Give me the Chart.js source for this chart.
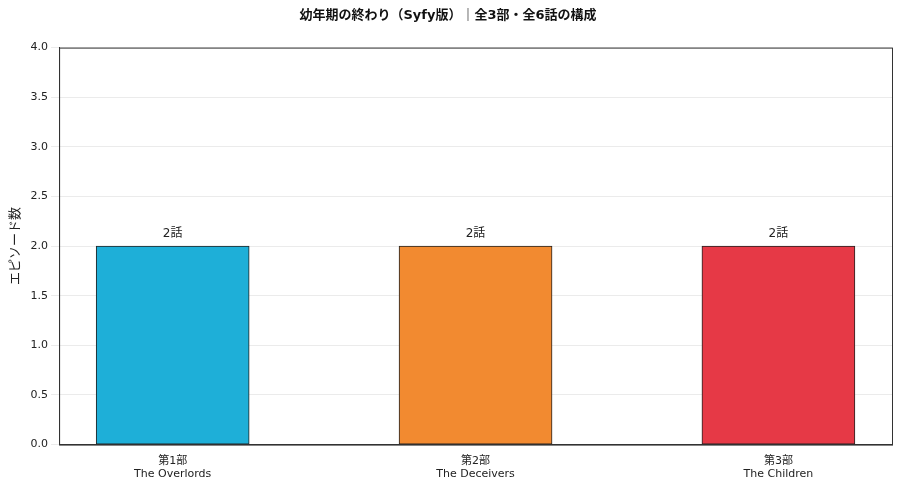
<!DOCTYPE html>
<html><head><meta charset="utf-8">
<script src="https://cdn.jsdelivr.net/npm/chart.js@4"></script>
<style>html,body{margin:0;padding:0;background:#fff}#w{width:900px;height:489px}</style>
</head><body><div id="w"><canvas id="c"></canvas></div>
<script>
const categories = [["第1部","The Overlords"],["第2部","The Deceivers"],["第3部","The Children"]];
const episodes = [2, 2, 2];
const barLabels = ["2話","2話","2話"];
const colors = ["#1eafd8","#f28a30","#e63946"];
const yTicks = [0,0.5,1,1.5,2,2.5,3,3.5,4];
const FONT = "'DejaVu Sans','Noto Sans CJK JP',sans-serif";
Chart.defaults.font.family = FONT;
const labelPlugin = {id:'lbl', afterDatasetsDraw(ch){
  const ctx=ch.ctx, meta=ch.getDatasetMeta(0);
  ctx.save(); ctx.font="12px "+FONT; ctx.fillStyle="#222"; ctx.textAlign="center"; ctx.textBaseline="bottom";
  meta.data.forEach((b,i)=>ctx.fillText(barLabels[i], b.x, b.y-6));
  ctx.restore();
}};
const frame = {id:'frame', afterDraw(ch){
  const a=ch.chartArea, ctx=ch.ctx; ctx.save(); ctx.strokeStyle="#333"; ctx.lineWidth=1;
  ctx.strokeRect(a.left+0.5,a.top+0.5,a.right-a.left,a.bottom-a.top); ctx.restore();
}};
new Chart(document.getElementById('c'),{
  type:'bar',
  data:{datasets:[{data:episodes.map((v,i)=>({x:i,y:v})),backgroundColor:colors,borderColor:"#222",borderWidth:1,barThickness:153,borderSkipped:false}]},
  options:{responsive:true,maintainAspectRatio:false,animation:false,
    layout:{padding:{left:4,right:8,top:0,bottom:6}},
    plugins:{legend:{display:false},tooltip:{enabled:false},
      title:{display:true,text:"幼年期の終わり（Syfy版）｜全3部・全6話の構成",font:{size:13,weight:'bold'},color:"#111",padding:{top:8,bottom:24}}},
    scales:{
      x:{type:'linear',min:-0.375,max:2.375,offset:false,grid:{display:false},border:{color:"#333"},
        afterBuildTicks(s){s.ticks=[0,1,2].map(v=>({value:v}));},
        ticks:{color:"#222",font:{size:11},padding:2,callback:(v)=>categories[v]}},
      y:{min:0,max:4,grid:{color:"#ebebeb"},border:{color:"#333"},
        afterBuildTicks(s){s.ticks=yTicks.map(v=>({value:v}));},
        ticks:{color:"#222",font:{size:11},callback:v=>v.toFixed(1)},
        title:{display:true,text:"エピソード数",font:{size:13},color:"#222"}}
    }},
  plugins:[labelPlugin,frame]
});
</script></body></html>
